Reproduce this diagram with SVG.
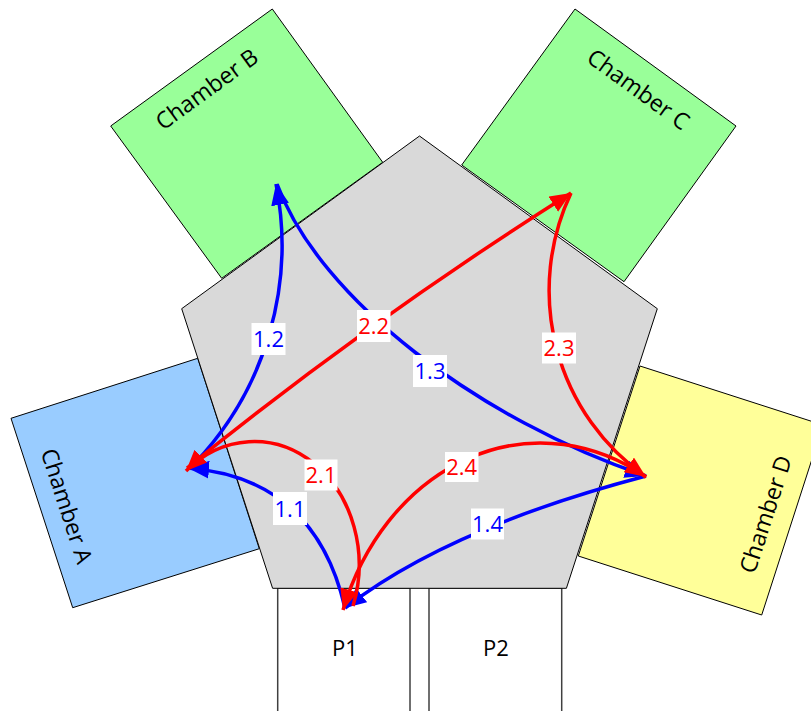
<svg xmlns="http://www.w3.org/2000/svg" width="811" height="711" viewBox="0 0 811 711">
<defs>
<style>
.ch{stroke:#000;stroke-width:1}
.cl{font-family:"Open Sans","Liberation Sans",sans-serif;font-size:23px;fill:#000;text-anchor:middle}
.pl{font-family:"Open Sans","Liberation Sans",sans-serif;font-size:22px;fill:#000;text-anchor:middle}
.port{fill:#fff;stroke:#404040;stroke-width:1.5}
.blue{fill:none;stroke:#0000FF;stroke-width:3.5;marker-end:url(#ab)}
.red{fill:none;stroke:#FF0000;stroke-width:3.5;marker-end:url(#ar)}
.box{fill:#fff}
.tb{font-family:"Open Sans","Liberation Sans",sans-serif;font-size:22px;text-anchor:middle;fill:#0000FF}
.tr{font-family:"Open Sans","Liberation Sans",sans-serif;font-size:22px;text-anchor:middle;fill:#FF0000}
</style>
<marker id="ab" markerUnits="userSpaceOnUse" markerWidth="22" markerHeight="18" refX="21" refY="9" orient="auto"><path d="M0,0 L21,9 L0,18 Z" fill="#0000FF"/></marker>
<marker id="ar" markerUnits="userSpaceOnUse" markerWidth="22" markerHeight="18" refX="21" refY="9" orient="auto"><path d="M0,0 L21,9 L0,18 Z" fill="#FF0000"/></marker>
</defs>
<rect width="811" height="711" fill="#fff"/>
<g id="chamberA"><polygon class="ch" fill="#99CCFF" points="11,418.3 197.7,358.3 259.3,548.7 72.7,607.7"/><text class="cl" transform="translate(66.7,506) rotate(72)" dy="0.35em">Chamber A</text></g>
<g id="chamberB"><polygon class="ch" fill="#99FF99" points="110.7,126 272.3,9 382.7,162.3 221.7,278.3"/><text class="cl" transform="translate(206.7,89.3) rotate(-36)" dy="0.35em">Chamber B</text></g>
<g id="chamberC"><polygon class="ch" fill="#99FF99" points="461.7,165 575,9 736,126 624,281.7"/><text class="cl" transform="translate(638.3,89.3) rotate(36)" dy="0.35em">Chamber C</text></g>
<g id="chamberD"><polygon class="ch" fill="#FFFF99" points="640,366 823,425 761.7,615 578.3,556"/><text class="cl" transform="translate(765.7,514.3) rotate(-72)" dy="0.35em">Chamber D</text></g>
<g id="P1"><rect class="port" x="277.7" y="588" width="132.3" height="140"/><text class="pl" x="345" y="655.5">P1</text></g>
<g id="P2"><rect class="port" x="429" y="588" width="132.7" height="140"/><text class="pl" x="496" y="655.5">P2</text></g>
<g id="transfer"><polygon fill="#D9D9D9" stroke="#000" stroke-width="1" points="419.5,136 657.3,308.7 566.4,588.3 272.6,588.3 181.7,308.7"/></g>
<g id="connectors">
<path class="blue" d="M345,608 Q315,478 188,468"/>
<path class="blue" d="M194,464 A316,316 0 0 0 276,184"/>
<path class="blue" d="M277,184 C320,300 480,420 646,476"/>
<path class="blue" d="M646,476 Q448,528 345,608"/>
<path class="red" d="M353,606 A105,123 0 0 0 186,471"/>
<path class="red" d="M187,468 Q370,320 571,193"/>
<path class="red" d="M571,193 A228,228 0 0 0 646,477"/>
<path class="red" d="M646,477 A210,252 0 0 0 343,610"/>
<rect class="box" x="273" y="492" width="34" height="33"/><text class="tb" x="290" y="516.5">1.1</text>
<rect class="box" x="251.5" y="323" width="34" height="32"/><text class="tb" x="268.5" y="347">1.2</text>
<rect class="box" x="413" y="355" width="34" height="32"/><text class="tb" x="430" y="379">1.3</text>
<rect class="box" x="471" y="508.5" width="33" height="31"/><text class="tb" x="487.5" y="532">1.4</text>
<rect class="box" x="304.5" y="459.5" width="33" height="31"/><text class="tr" x="321" y="483">2.1</text>
<rect class="box" x="357" y="310" width="33.5" height="32"/><text class="tr" x="373.7" y="334">2.2</text>
<rect class="box" x="542" y="332.5" width="34" height="31"/><text class="tr" x="559" y="356">2.3</text>
<rect class="box" x="445" y="452" width="33.5" height="30"/><text class="tr" x="461.7" y="475">2.4</text>
</g>
</svg>
